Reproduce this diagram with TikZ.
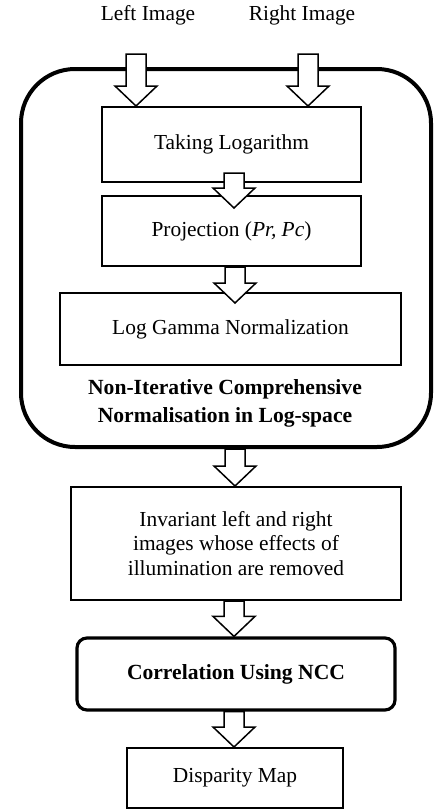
\documentclass[tikz,border=0pt]{standalone}
\usepackage{fontspec}
\setmainfont{Liberation Serif}
\usepackage{tikz}
\usetikzlibrary{calc}
\tikzset{
	stagebox/.style={draw,line width=1pt,fill=white,inner sep=0pt,align=center,font=\fontsize{10.7}{12.3}\selectfont},
	blockarr/.style={draw,fill=white,line width=0.75pt,line join=miter}
}
\newcommand{\blockarrow}[2]{\draw[blockarr] let \p1=(#1), \p2=(#2) in
	(\x1-5pt,\y1) -- (\x1-5pt,\y2+10pt) -- (\x1-10.5pt,\y2+10pt) -- (\x1,\y2) -- (\x1+10.5pt,\y2+10pt) -- (\x1+5pt,\y2+10pt) -- (\x1+5pt,\y1) -- cycle;}

\begin{document}
\begin{tikzpicture}[x=0.5pt,y=-0.5pt,font=\fontsize{10.7}{12.3}\selectfont]
	\useasboundingbox (0,0) rectangle (435,810);
	\node (left) at (148,15) {Left Image};
	\node (right) at (302,15) {Right Image};
	\node[draw,line width=2pt,rounded corners=27pt,minimum width=205pt,minimum height=189pt] (outer) at (226,258) {};
	\node[stagebox,minimum width=129.5pt,minimum height=37.5pt] (log) at (231.5,144.5) {Taking Logarithm};
	\node[stagebox,minimum width=129.5pt,minimum height=35pt] (proj) at (231.5,231) {Projection (\textit{Pr, Pc})};
	\node[stagebox,minimum width=170.5pt,minimum height=36pt] (gamma) at (230.5,329) {Log Gamma Normalization};
	\node[align=center,font=\fontsize{10.8}{14}\selectfont\bfseries] (ncn) at (225,403) {Non-Iterative Comprehensive\\Normalisation in Log-space};
	\node[stagebox,minimum width=165pt,minimum height=56.5pt] (inv) at (236,543.5) {Invariant left and right\\images whose effects of\\illumination are removed};
	\node[stagebox,line width=1.6pt,rounded corners=5pt,minimum width=159pt,minimum height=36pt,font=\fontsize{10.8}{12.3}\selectfont\bfseries] (corr) at (236,674) {Correlation Using NCC};
	\node[stagebox,minimum width=108pt,minimum height=30pt] (disp) at (235,778) {Disparity Map};
	\coordinate (l0) at (136,54);
	\coordinate (r0) at (308,54);
	\blockarrow{l0}{log.north}
	\blockarrow{r0}{log.north}
	\blockarrow{$(log.south)+(2.5,-10)$}{$(proj.north)+(0,13)$}
	\blockarrow{$(proj.south)+(3.5,0)$}{$(gamma.north)+(0,11)$}
	\blockarrow{$(outer.south)+(9,0)$}{inv.north}
	\blockarrow{$(inv.south)+(-2,0)$}{corr.north}
	\blockarrow{$(corr.south)+(-2,0)$}{disp.north}
\end{tikzpicture}
\end{document}
